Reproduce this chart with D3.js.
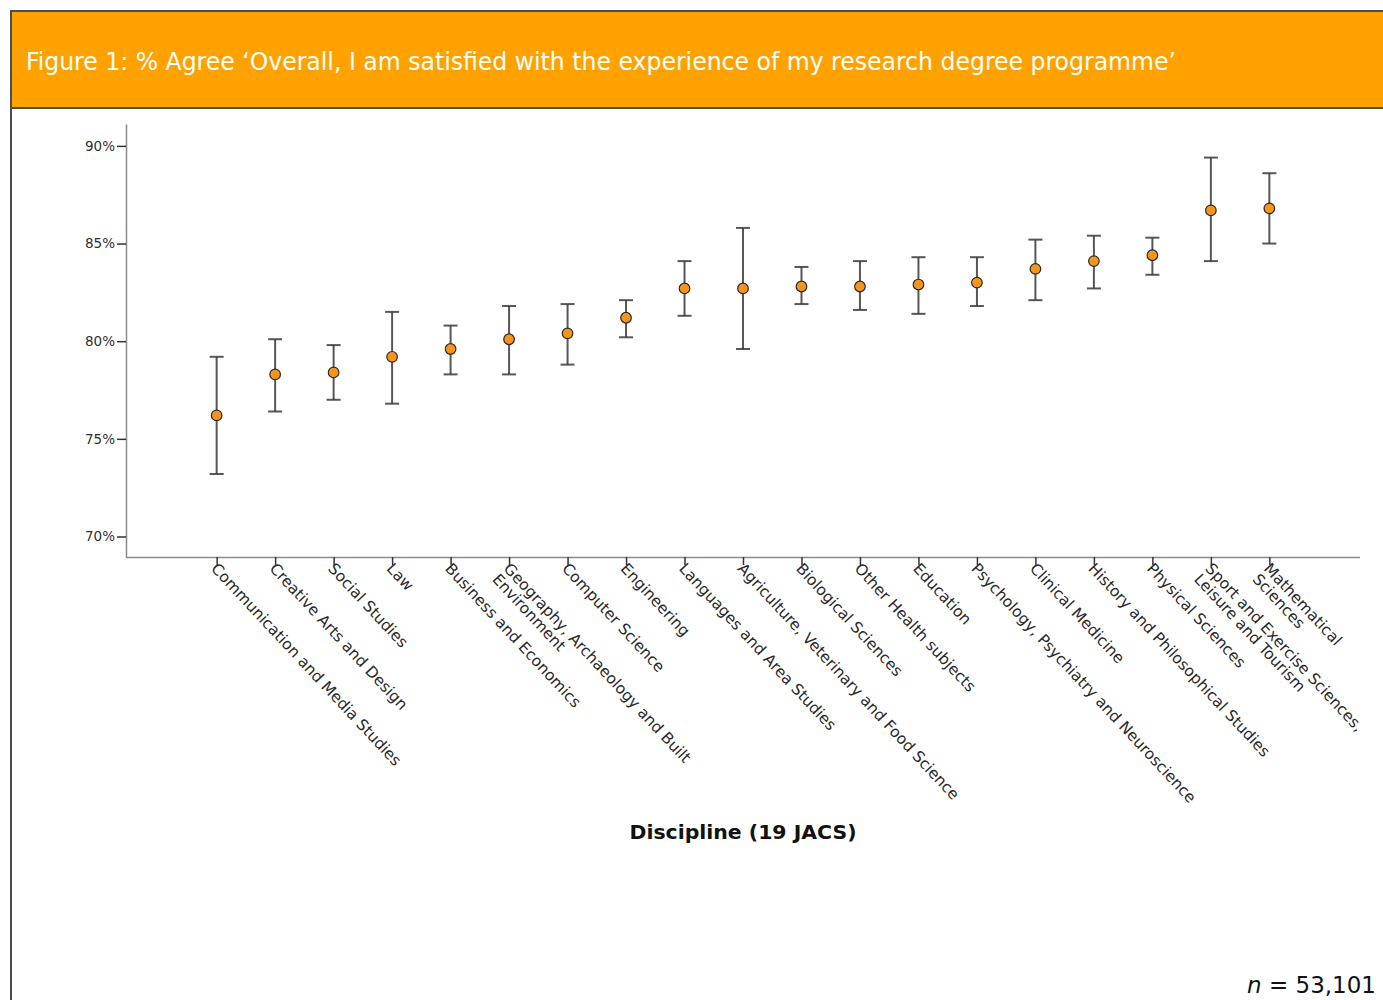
<!DOCTYPE html>
<html>
<head>
<meta charset="utf-8">
<script src="https://cdn.jsdelivr.net/npm/d3@7"></script>
<style>
  html, body { margin: 0; padding: 0; background: #fff; }
  svg { display: block; }
</style>
</head>
<body>
<svg id="chart" width="1383" height="1000"></svg>
<script>
// Disciplines, ordered by share agreeing (lines split where the label wraps)
const disciplines = [
  ["Communication and Media Studies"],
  ["Creative Arts and Design"],
  ["Social Studies"],
  ["Law"],
  ["Business and Economics"],
  ["Geography, Archaeology and Built", "Environment"],
  ["Computer Science"],
  ["Engineering"],
  ["Languages and Area Studies"],
  ["Agriculture, Veterinary and Food Science"],
  ["Biological Sciences"],
  ["Other Health subjects"],
  ["Education"],
  ["Psychology, Psychiatry and Neuroscience"],
  ["Clinical Medicine"],
  ["History and Philosophical Studies"],
  ["Physical Sciences"],
  ["Sport and Exercise Sciences,", "Leisure and Tourism"],
  ["Mathematical", "Sciences"]
];

// % agree, with lower and upper confidence limits
const agree = [76.2, 78.3, 78.4, 79.2, 79.6, 80.1, 80.4, 81.2, 82.7, 82.7, 82.8, 82.8, 82.9, 83.0, 83.7, 84.1, 84.4, 86.7, 86.8];
const lower = [73.2, 76.4, 77.0, 76.8, 78.3, 78.3, 78.8, 80.2, 81.3, 79.6, 81.9, 81.6, 81.4, 81.8, 82.1, 82.7, 83.4, 84.1, 85.0];
const upper = [79.2, 80.1, 79.8, 81.5, 80.8, 81.8, 81.9, 82.1, 84.1, 85.8, 83.8, 84.1, 84.3, 84.3, 85.2, 85.4, 85.3, 89.4, 88.6];

const yTicks = [70, 75, 80, 85, 90];

const titleText = "Figure 1: % Agree \u2018Overall, I am satisfied with the experience of my research degree programme\u2019";
const axisTitle = "Discipline (19 JACS)";

const svg = d3.select("#chart");

// Header band
svg.append("rect")
  .attr("x", 11).attr("y", 11)
  .attr("width", 1383).attr("height", 97)
  .attr("fill", "#FFA200")
  .attr("stroke", "#4d4d4d").attr("stroke-width", 2);

svg.append("text")
  .attr("x", 26).attr("y", 70)
  .attr("fill", "#fff")
  .attr("font-family", "'DejaVu Sans Condensed', 'DejaVu Sans', sans-serif")
  .attr("font-size", 25)
  .attr("textLength", 1150)
  .attr("lengthAdjust", "spacingAndGlyphs")
  .text(titleText);

// Left frame line below the header
svg.append("line")
  .attr("x1", 11).attr("x2", 11)
  .attr("y1", 108).attr("y2", 1000)
  .attr("stroke", "#4d4d4d").attr("stroke-width", 2);

// Scales
const x = d3.scalePoint()
  .domain(disciplines.map((d, i) => i))
  .range([126, 1360])
  .padding(1.55);

const y = d3.scaleLinear()
  .domain([68.95, 91.12])
  .range([557, 124]);

// Y axis
const yAxis = svg.append("g")
  .attr("transform", "translate(126,0)")
  .call(d3.axisLeft(y).tickValues(yTicks).tickFormat(d => d + "%").tickSize(9).tickPadding(2).tickSizeOuter(0));
yAxis.select(".domain").attr("stroke", "#8a8a8a").attr("stroke-width", 1.5);
yAxis.selectAll(".tick line").attr("stroke", "#333").attr("stroke-width", 1.5);
yAxis.selectAll(".tick text")
  .attr("fill", "#2f2f2f")
  .attr("font-family", "'DejaVu Sans', sans-serif")
  .attr("font-size", 13.5);

// X axis
const xAxis = svg.append("g")
  .attr("transform", "translate(0,557)")
  .call(d3.axisBottom(x).tickSize(8).tickSizeOuter(0).tickFormat(""));
xAxis.select(".domain").attr("stroke", "#8a8a8a").attr("stroke-width", 1.5)
  .attr("d", "M126,0.5H1360");
xAxis.selectAll(".tick line").attr("stroke", "#333").attr("stroke-width", 1.5);

// Rotated category labels
const labels = xAxis.selectAll(".tick")
  .append("text")
  .attr("fill", "#2a2a2a")
  .attr("font-family", "'DejaVu Sans', sans-serif")
  .attr("font-size", 15.5)
  .attr("text-anchor", "start")
  .attr("transform", "translate(0,6) rotate(47)");
labels.each(function(i) {
  const t = d3.select(this);
  disciplines[i].forEach((line, k) => {
    t.append("tspan")
      .attr("x", 0)
      .attr("dy", k === 0 ? "0.6em" : "1.0em")
      .text(line);
  });
});

// Error bars
const cap = 7;
const bars = svg.append("g").selectAll("g")
  .data(agree.map((v, i) => ({ i, v, lo: lower[i], hi: upper[i] })))
  .join("g")
  .attr("stroke", "#3a3a3a")
  .attr("stroke-width", 2)
  .attr("stroke-opacity", 0.85);

bars.append("line")
  .attr("x1", d => x(d.i)).attr("x2", d => x(d.i))
  .attr("y1", d => y(d.lo)).attr("y2", d => y(d.hi));
bars.append("line")
  .attr("x1", d => x(d.i) - cap).attr("x2", d => x(d.i) + cap)
  .attr("y1", d => y(d.hi)).attr("y2", d => y(d.hi));
bars.append("line")
  .attr("x1", d => x(d.i) - cap).attr("x2", d => x(d.i) + cap)
  .attr("y1", d => y(d.lo)).attr("y2", d => y(d.lo));

// Point estimates
svg.append("g").selectAll("circle")
  .data(agree)
  .join("circle")
  .attr("cx", (d, i) => x(i))
  .attr("cy", d => y(d))
  .attr("r", 5.3)
  .attr("fill", "#F7941D")
  .attr("stroke", "#2a2a2a")
  .attr("stroke-width", 1.2);

// Axis title
svg.append("text")
  .attr("x", 743).attr("y", 839)
  .attr("text-anchor", "middle")
  .attr("fill", "#111")
  .attr("font-family", "'DejaVu Sans', sans-serif")
  .attr("font-weight", "bold")
  .attr("font-size", 20)
  .attr("textLength", 227)
  .attr("lengthAdjust", "spacingAndGlyphs")
  .text(axisTitle);

// Sample size note
const note = svg.append("text")
  .attr("x", 1376).attr("y", 993)
  .attr("text-anchor", "end")
  .attr("fill", "#111")
  .attr("font-family", "'DejaVu Sans', sans-serif")
  .attr("font-size", 23);
note.append("tspan").attr("font-style", "italic").text("n");
note.append("tspan").text(" = 53,101");
</script>
</body>
</html>
